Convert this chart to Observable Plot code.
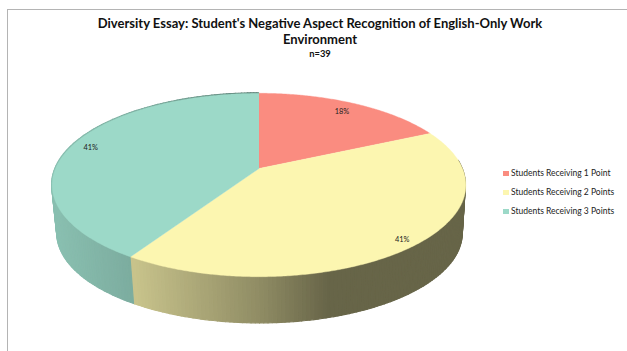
<!DOCTYPE html>
<html>
<head>
<meta charset="utf-8">
<script src="https://cdn.jsdelivr.net/npm/d3@7"></script>
<script src="https://cdn.jsdelivr.net/npm/@observablehq/plot@0.6"></script>
<style>
  html, body { margin: 0; padding: 0; background: #fff; overflow: hidden; }
  body { position: relative; width: 627px; height: 351px; font-family: Lato, "Open Sans", sans-serif; color: #111; }
  #frame { position: absolute; left: 7px; top: 9px; right: 0; bottom: 0; border-left: 1px solid #b4b4b4; border-top: 1px solid #b4b4b4; pointer-events: none; }
  header { position: relative; height: 62px; box-sizing: border-box; margin-left: 13px; width: 614px; padding-top: 15px; text-align: center; }
  h1 { margin: 0; font-size: 13px; line-height: 16px; font-weight: 700; white-space: nowrap; }
  h2 { margin: 0; font-size: 9.4px; line-height: 13px; font-weight: 700; }
  #chart svg { display: block; }
  #legend { position: absolute; left: 503px; top: 164px; font-size: 8.5px; line-height: 18.8px; color: #222; white-space: nowrap; }
  #legend i { display: inline-block; width: 6px; height: 5px; margin-right: 2px; vertical-align: 0; }
</style>
</head>
<body>
<div id="frame"></div>
<header>
  <h1>Diversity Essay: Student's Negative Aspect Recognition of English-Only Work<br>Environment</h1>
  <h2>n=39</h2>
</header>
<div id="chart"></div>
<div id="legend"></div>
<script>
// Shares of the 39 essays, in percent
const categories = ["Students Receiving 1 Point", "Students Receiving 2 Points", "Students Receiving 3 Points"];
const shares = [18, 41, 41];
const labels = ["18%", "41%", "41%"];
const colors = ["#fa8c80", "#fcf6b0", "#9cd9c8"];

// Perspective of the tilted disc, in units of its radius
const lean = 0.18;        // how strongly the near edge is enlarged
const tilt = 0.436;       // vertical foreshortening
const wallDrop = 0.24;    // thickness of the disc
const wallShrink = 0.98;  // the underside sits further away from the viewer
const labelReach = [0.86, 0.93, 0.9];

const rad = d => d * Math.PI / 180;
function rim(deg, r = 1) {
  const t = r * Math.cos(rad(deg));
  const w = 1 + lean * t;
  return {x: r * Math.sin(rad(deg)) / w, y: tilt * t / w};
}

// Slice boundaries in degrees, clockwise from twelve o'clock
const total = d3.sum(shares);
const ends = d3.cumsum(shares).map(v => v / total * 360);
const starts = [0, ...ends.slice(0, -1)];

// Top surface outline of each slice
const topFaces = categories.flatMap((c, i) => {
  const arc = d3.range(starts[i], ends[i], 0.5).concat(ends[i]).map(a => ({...rim(a), c, fill: colors[i]}));
  return [{x: 0, y: 0, c, fill: colors[i]}, ...arc];
});

// The side wall is lit from the left and falls into shade to the right
const shade = d3.scaleLinear().domain([-1, -0.61, 0, 0.34, 1.1]).range([0.88, 0.79, 0.57, 0.41, 0.41]).clamp(true);
function wallPoint(a) {
  const p = rim(a);
  return {x1: p.x, y1: p.y, x2: p.x * wallShrink + 0.005, y2: p.y * wallShrink - wallDrop};
}
const wallStrips = categories.flatMap((c, i) => {
  if (ends[i] <= 90) return [];
  const base = d3.rgb(colors[i]);
  const from = Math.max(starts[i], 85);
  return d3.range(from, ends[i], 1).flatMap(a => {
    const b = Math.min(a + 1, ends[i]);
    const f = shade(rim((a + b) / 2).x);
    const fill = d3.rgb(base.r * f, base.g * f, base.b * f).formatRgb();
    const id = `${i}-${a}`;
    return [{...wallPoint(a), id, fill}, {...wallPoint(b), id, fill}];
  });
});

const labelMarks = categories.map((c, i) => ({...rim((starts[i] + ends[i]) / 2, labelReach[i]), text: labels[i]}));

// Plot area keeps one scale for both axes, centred on the apex of the slices
const width = 627, height = 289, unit = 203.5, apexX = 258.5, apexY = 106;
const chart = Plot.plot({
  width, height,
  margin: 0,
  x: {domain: [-apexX / unit, (width - apexX) / unit], range: [0, width], axis: null},
  y: {domain: [apexY / unit, (apexY - height) / unit], range: [0, height], axis: null},
  color: {type: "identity"},
  style: {background: "transparent"},
  marks: [
    Plot.area(wallStrips, {x1: "x1", y1: "y1", x2: "x2", y2: "y2", z: "id", fill: "fill", stroke: "fill", strokeWidth: 1.2}),
    Plot.line(topFaces, {x: "x", y: "y", z: "c", fill: "fill", stroke: "fill", strokeWidth: 0.4}),
    Plot.text(labelMarks, {x: "x", y: "y", text: "text", fontSize: 7.4, fontFamily: "Lato, sans-serif", fill: "#222"})
  ]
});
document.getElementById("chart").append(chart);

// Legend to the right of the disc
const legend = d3.select("#legend");
categories.forEach((c, i) => {
  const row = legend.append("div");
  row.append("i").style("background", colors[i]);
  row.append("span").text(c);
});
</script>
</body>
</html>
